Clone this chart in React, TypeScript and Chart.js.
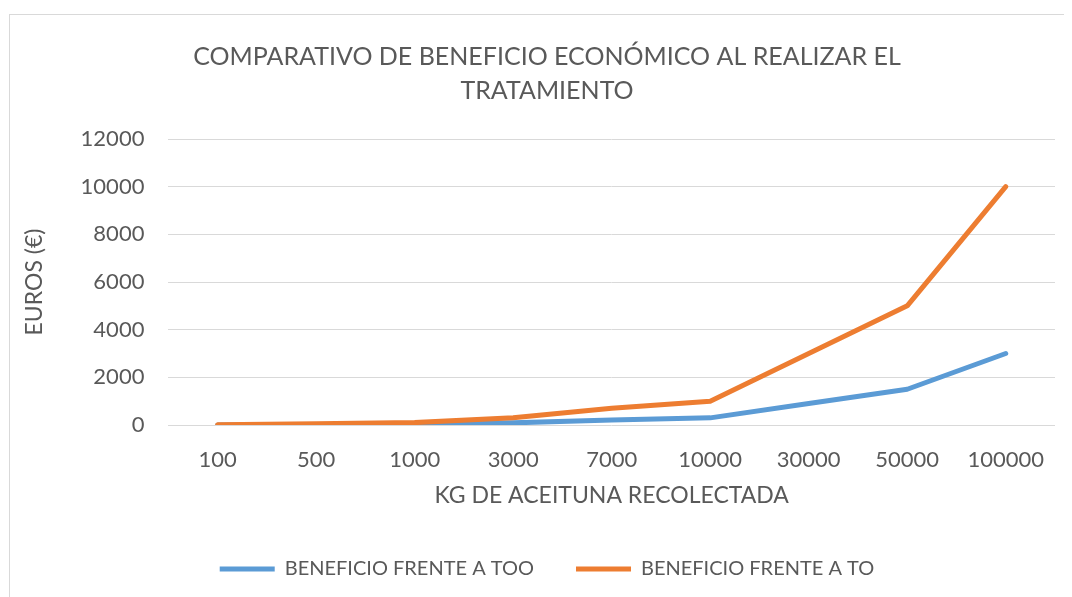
import React, { useEffect, useRef } from "react";
import { Chart, registerables } from "chart.js";

Chart.register(...registerables);

const categories = ["100", "500", "1000", "3000", "7000", "10000", "30000", "50000", "100000"];
const seriesTOO = [3, 15, 30, 90, 210, 300, 900, 1500, 3000];
const seriesTO = [10, 50, 100, 300, 700, 1000, 3000, 5000, 10000];
const titleLines = ["COMPARATIVO DE BENEFICIO ECONÓMICO AL REALIZAR EL", "TRATAMIENTO"];
const seriesNames = ["BENEFICIO FRENTE A TOO", "BENEFICIO FRENTE A TO"];
const yAxisTitle = "EUROS (€)";
const xAxisTitle = "KG DE ACEITUNA RECOLECTADA";

const FONT = "Lato, 'Open Sans', sans-serif";
const TEXT = "#595959";
const GRID = "#d9d9d9";

export default function App() {
  const ref = useRef<HTMLCanvasElement | null>(null);
  useEffect(() => {
    if (!ref.current) return;
    const chart = new Chart(ref.current, {
      type: "line",
      data: {
        labels: categories,
        datasets: [
          {
            label: seriesNames[0],
            data: seriesTOO,
            borderColor: "#5b9bd5",
            backgroundColor: "#5b9bd5",
            borderWidth: 5,
            pointRadius: 0,
            tension: 0,
            borderCapStyle: "round",
            borderJoinStyle: "round",
            order: 1,
          },
          {
            label: seriesNames[1],
            data: seriesTO,
            borderColor: "#ed7d31",
            backgroundColor: "#ed7d31",
            borderWidth: 5,
            pointRadius: 0,
            tension: 0,
            borderCapStyle: "round",
            borderJoinStyle: "round",
            order: 0,
          },
        ],
      },
      options: {
        animation: false,
        responsive: false,
        maintainAspectRatio: false,
        layout: { padding: { left: 29, right: 31, top: 0, bottom: 22 } },
        plugins: {
          tooltip: { enabled: false },
          title: {
            display: true,
            text: titleLines,
            color: TEXT,
            font: { family: FONT, size: 25, weight: "normal", lineHeight: 1.36 },
            padding: { top: 25, bottom: 31 },
          },
          legend: {
            position: "bottom",
            labels: {
              usePointStyle: true,
              pointStyle: "line",
              pointStyleWidth: 55,
              color: TEXT,
              font: { family: FONT, size: 20 },
              padding: 42,
              sort: (a: any, b: any) => a.datasetIndex - b.datasetIndex,
            },
          },
        },
        scales: {
          x: {
            offset: true,
            grid: { display: false, drawTicks: false, offset: true },
            border: { display: false },
            ticks: { color: TEXT, font: { family: FONT, size: 22 }, padding: 22, maxRotation: 0, autoSkip: false },
            title: {
              display: true,
              text: xAxisTitle,
              color: TEXT,
              font: { family: FONT, size: 23 },
              padding: { top: -14, bottom: 8 },
            },
          },
          y: {
            min: 0,
            max: 12000,
            grid: { color: GRID, lineWidth: 1, drawTicks: false },
            border: { display: false },
            ticks: {
              stepSize: 2000,
              color: TEXT,
              font: { family: FONT, size: 22 },
              padding: 24,
              callback: (v: any) => String(v),
            },
            title: {
              display: true,
              text: yAxisTitle,
              color: TEXT,
              font: { family: FONT, size: 23 },
              padding: { top: -18, bottom: 8 },
            },
          },
        },
      },
    });
    return () => chart.destroy();
  }, []);
  return (
    <div
      style={{
        marginLeft: 1,
        marginTop: 6,
        width: 1076,
        height: 596,
        border: `1px solid ${GRID}`,
        background: "#fff",
      }}
    >
      <canvas ref={ref} width={1076} height={596} style={{ display: "block" }} />
    </div>
  );
}
